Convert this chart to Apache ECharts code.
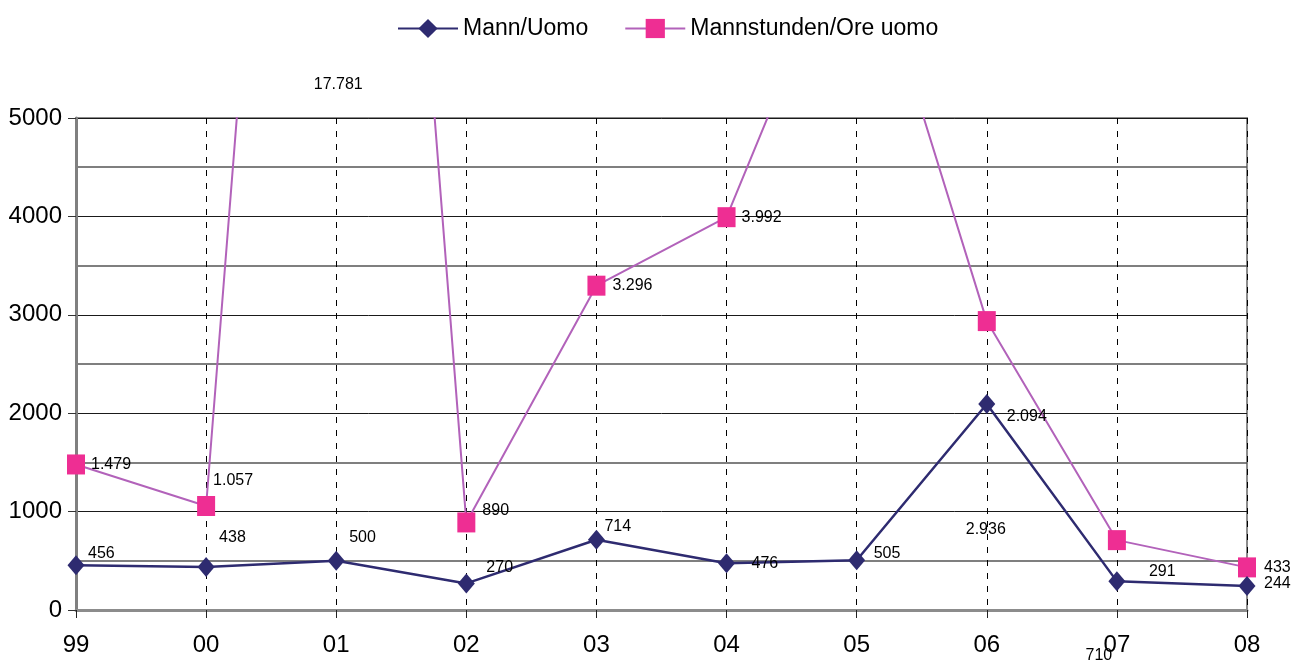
<!DOCTYPE html>
<html>
<head>
<meta charset="utf-8">
<title>Mann/Uomo – Mannstunden/Ore uomo</title>
<script src="https://cdn.jsdelivr.net/npm/echarts@6/dist/echarts.min.js"></script>
<style>
  html, body { margin: 0; padding: 0; background: #ffffff; }
  #chart { width: 1293px; height: 662px; }
</style>
</head>
<body>
<div id="chart"></div>
<script>
// Years (two-digit) along the x axis
const years = ['99', '00', '01', '02', '03', '04', '05', '06', '07', '08'];

// Headcount per year
const mannUomo = [456, 438, 500, 270, 714, 476, 505, 2094, 291, 244];

// Man-hours per year
const mannstunden = [1479, 1057, 17781, 890, 3296, 3992, 7200, 2936, 710, 433];

// Y axis range and labelled step
const yMax = 5000;
const yStep = 1000;

// Data label placement (pixel offset from the point, optional alignment); null = no label
const mannLabelPlace = [
  [12, -12], [13, -29], [13, -23], [20, -16], [8, -13],
  [25, 0], [17, -7], [20, 13], [32, -10], [17, -2]
];
const stundenLabelPlace = [
  [15, 0], [7, -25], [2, -33, 'center'], [16, -12], [16, 0],
  [15, 0], null, [-1, 208, 'center'], [-18, 115, 'center'], [17, 0]
];

const FONT = '"Liberation Sans", Arial, sans-serif';

// 1234 -> "1.234"
function fmt(v) {
  return String(v).replace(/\B(?=(\d{3})+(?!\d))/g, '.');
}

function buildItems(values, places) {
  return values.map(function (v, i) {
    const p = places[i];
    if (!p) return { value: v, label: { show: false } };
    return {
      value: v,
      label: { show: true, offset: [p[0], p[1]], align: p[2] || 'left' }
    };
  });
}

const labelBase = {
  show: true,
  position: 'inside',
  verticalAlign: 'middle',
  color: '#000',
  fontFamily: FONT,
  fontSize: 16,
  textBorderWidth: 0,
  formatter: function (p) { return fmt(p.value); }
};

const chart = echarts.init(document.getElementById('chart'), null, { renderer: 'canvas' });

chart.setOption({
  animation: false,
  backgroundColor: '#ffffff',
  textStyle: { fontFamily: FONT },
  legend: {
    top: 12,
    left: 392,
    itemWidth: 60,
    itemHeight: 24,
    itemGap: 36,
    textStyle: { fontFamily: FONT, fontSize: 23, color: '#000' },
    data: ['Mann/Uomo', 'Mannstunden/Ore uomo']
  },
  grid: {
    left: 76, right: 46, top: 118, bottom: 52,
    show: true,
    borderColor: '#8c8c8c',
    borderWidth: 2
  },
  xAxis: {
    type: 'category',
    data: years,
    boundaryGap: false,
    axisLine: { lineStyle: { color: '#8c8c8c', width: 3 } },
    axisTick: { show: true, length: 8, lineStyle: { color: '#222', width: 1 } },
    axisLabel: { fontFamily: FONT, fontSize: 24, color: '#000', margin: 23 },
    splitLine: { show: true, lineStyle: { color: '#000', width: 1, type: [6, 7] } }
  },
  yAxis: {
    type: 'value',
    min: 0,
    max: yMax,
    interval: yStep,
    axisLine: { show: true, lineStyle: { color: '#808080', width: 3 } },
    axisTick: { show: true, length: 8, lineStyle: { color: '#333', width: 1 } },
    axisLabel: {
      fontFamily: FONT, fontSize: 24, color: '#000', margin: 14,
      formatter: function (v) { return String(v); }
    },
    splitLine: { show: true, lineStyle: { color: '#1a1a1a', width: 1 } },
    minorTick: { show: false, splitNumber: 2 },
    minorSplitLine: { show: true, lineStyle: { color: '#555', width: 1.5 } }
  },
  series: [
    {
      name: 'Mann/Uomo',
      type: 'line',
      data: buildItems(mannUomo, mannLabelPlace),
      symbol: 'diamond',
      symbolSize: [17, 20],
      lineStyle: { color: '#2e2b70', width: 2.5 },
      itemStyle: { color: '#2e2b70' },
      label: labelBase,
      z: 3
    },
    {
      name: 'Mannstunden/Ore uomo',
      type: 'line',
      data: buildItems(mannstunden, stundenLabelPlace),
      symbol: 'rect',
      symbolSize: [18, 20],
      lineStyle: { color: '#b262ba', width: 2 },
      itemStyle: { color: '#ee2e93' },
      label: labelBase,
      z: 2
    },
    {
      // Labels of values above the axis range, pinned above the plot top
      type: 'custom',
      name: 'offscale',
      silent: true,
      clip: false,
      data: mannstunden.map(function (v, i) { return [i, v]; }),
      encode: { x: 0, y: 1 },
      renderItem: function (params, api) {
        const i = params.dataIndex;
        const v = api.value(1);
        const p = stundenLabelPlace[i];
        if (v <= yMax || !p) return null;
        const pt = api.coord([api.value(0), yMax]);
        return {
          type: 'text',
          x: pt[0] + p[0],
          y: pt[1] + p[1],
          style: {
            text: fmt(v),
            fill: '#000',
            font: '16px ' + FONT,
            textAlign: p[2] || 'left',
            textVerticalAlign: 'middle'
          }
        };
      },
      z: 4
    }
  ]
});
</script>
</body>
</html>
